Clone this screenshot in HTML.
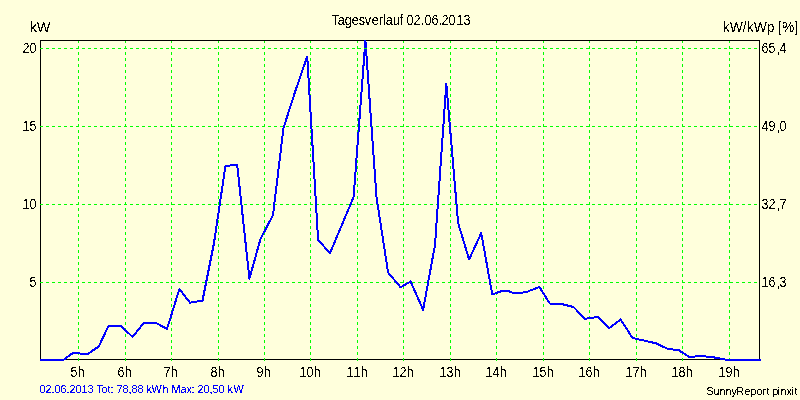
<!DOCTYPE html>
<html><head><meta charset="utf-8"><title>Tagesverlauf 02.06.2013</title>
<style>html,body{margin:0;padding:0;background:#FFFFDC;}svg{display:block;}text{font-family:"Liberation Sans",sans-serif;}</style></head><body>
<svg width="800" height="400" viewBox="0 0 800 400">
<defs>
<filter id="t1" filterUnits="userSpaceOnUse" x="0" y="0" width="800" height="400" color-interpolation-filters="sRGB"><feComponentTransfer><feFuncA type="discrete" tableValues="0 1"/></feComponentTransfer></filter>
<filter id="t2" filterUnits="userSpaceOnUse" x="0" y="0" width="800" height="400" color-interpolation-filters="sRGB"><feComponentTransfer><feFuncA type="discrete" tableValues="0 0 0 0 1 1 1 1 1"/></feComponentTransfer></filter>
</defs>
<rect x="0" y="0" width="800" height="400" fill="#FFFFDC"/>
<g shape-rendering="crispEdges" fill="none">
<rect x="40.5" y="40.5" width="719" height="319" stroke="#000" stroke-width="1"/>
<g stroke="#00FF00" stroke-width="1" stroke-dasharray="3 3">
<line x1="40" y1="48.5" x2="760" y2="48.5"/>
<line x1="40" y1="126.5" x2="760" y2="126.5"/>
<line x1="40" y1="204.5" x2="760" y2="204.5"/>
<line x1="40" y1="282.5" x2="760" y2="282.5"/>
<line x1="78.5" y1="41" x2="78.5" y2="361" stroke-dashoffset="1"/>
<line x1="125.5" y1="41" x2="125.5" y2="361" stroke-dashoffset="1"/>
<line x1="171.5" y1="41" x2="171.5" y2="361" stroke-dashoffset="1"/>
<line x1="218.5" y1="41" x2="218.5" y2="361" stroke-dashoffset="1"/>
<line x1="264.5" y1="41" x2="264.5" y2="361" stroke-dashoffset="1"/>
<line x1="310.5" y1="41" x2="310.5" y2="361" stroke-dashoffset="1"/>
<line x1="357.5" y1="41" x2="357.5" y2="361" stroke-dashoffset="1"/>
<line x1="403.5" y1="41" x2="403.5" y2="361" stroke-dashoffset="1"/>
<line x1="450.5" y1="41" x2="450.5" y2="361" stroke-dashoffset="1"/>
<line x1="496.5" y1="41" x2="496.5" y2="361" stroke-dashoffset="1"/>
<line x1="543.5" y1="41" x2="543.5" y2="361" stroke-dashoffset="1"/>
<line x1="589.5" y1="41" x2="589.5" y2="361" stroke-dashoffset="1"/>
<line x1="636.5" y1="41" x2="636.5" y2="361" stroke-dashoffset="1"/>
<line x1="682.5" y1="41" x2="682.5" y2="361" stroke-dashoffset="1"/>
<line x1="729.5" y1="41" x2="729.5" y2="361" stroke-dashoffset="1"/>
</g>
<polyline stroke="#0000FF" stroke-width="2" stroke-linejoin="round" points="40,360 63.2,360 72.5,353.3 79.6,353.3 81.2,354.3 87.2,354.3 98.75,346.5 108.5,326 121.25,326 132.5,337 143.5,323.2 156.5,323.2 167,329 179.4,289 190,302.75 202.5,300.6 214,243 225.5,165.8 237.2,165 249.4,278.6 260.5,239 273,215 283.5,128 295,92 307.25,56.5 318.1,240 330,253.1 353.6,197 365.4,40.5 376.5,197 388.1,272.5 400.6,287.25 410.6,281.5 423.1,309.75 435,245 446.3,83.8 458.1,223 469.1,259.4 481.25,233.1 492.25,294.4 501.8,291 508.4,291 513.2,293 520.6,293 527.5,291.6 539.4,286.9 549.8,303.5 561.4,304 573.5,307 585,318.75 598.1,316.9 609.4,328.1 620.6,319.5 632.5,337.9 644.1,340.6 655.7,343.2 667.3,348.7 678.9,350.3 689.4,357 701.2,356 713,357.2 727.5,360 761,360"/>
<line x1="364" y1="48.5" x2="367" y2="48.5" stroke="#00FF00" stroke-width="1"/>
</g>
<g filter="url(#t1)">
<text transform="translate(331.26,25) scale(0.9057,1)" x="0.54 7.17 14.89 22.62 30.35 36.98 44.71 52.44 56.85 60.17 67.89 75.62 78.94 83.08 90.81 98.81 102.95 110.68 118.69 121.72 129.45 138.29 146.01" font-size="14px" fill="#000">Tagesverlauf 02.06.2013</text>
<text transform="translate(29.56,32) scale(1.0353,1)" x="0.18 6.94" font-size="14px" fill="#000">kW</text>
<text transform="translate(722.76,32) scale(0.9899,1)" x="-0.01 7.06 20.19 24.23 31.31 44.44 52.52 55.55 59.89 72.37" font-size="14px" fill="#000">kW/kWp [%]</text>
<text transform="translate(22.00,53) scale(0.8990,1)" x="0.56 8.34" font-size="14px" fill="#000">20</text>
<text transform="translate(22.00,131) scale(0.8990,1)" x="0.56 8.34" font-size="14px" fill="#000">15</text>
<text transform="translate(22.00,209) scale(0.8990,1)" x="0.56 8.34" font-size="14px" fill="#000">10</text>
<text transform="translate(29.00,287) scale(0.8990,1)" x="0.56" font-size="14px" fill="#000">5</text>
<text transform="translate(761.00,53) scale(0.8990,1)" x="0.56 8.34 17.35 20.58" font-size="14px" fill="#000">65,4</text>
<text transform="translate(761.00,131) scale(0.8990,1)" x="0.56 8.34 17.35 20.58" font-size="14px" fill="#000">49,0</text>
<text transform="translate(761.00,209) scale(0.8990,1)" x="0.56 8.34 17.35 20.58" font-size="14px" fill="#000">32,7</text>
<text transform="translate(761.00,287) scale(0.8990,1)" x="0.56 8.34 17.35 20.58" font-size="14px" fill="#000">16,3</text>
<text transform="translate(70.00,377) scale(0.8990,1)" x="0.56 8.62" font-size="14px" fill="#000">5h</text>
<text transform="translate(117.00,377) scale(0.8990,1)" x="0.56 8.62" font-size="14px" fill="#000">6h</text>
<text transform="translate(163.00,377) scale(0.8990,1)" x="0.56 8.62" font-size="14px" fill="#000">7h</text>
<text transform="translate(210.00,377) scale(0.8990,1)" x="0.56 8.62" font-size="14px" fill="#000">8h</text>
<text transform="translate(256.00,377) scale(0.8990,1)" x="0.56 8.62" font-size="14px" fill="#000">9h</text>
<text transform="translate(299.00,377) scale(0.8990,1)" x="0.56 8.34 16.41" font-size="14px" fill="#000">10h</text>
<text transform="translate(346.00,377) scale(0.8990,1)" x="0.56 8.34 16.41" font-size="14px" fill="#000">11h</text>
<text transform="translate(392.00,377) scale(0.8990,1)" x="0.56 8.34 16.41" font-size="14px" fill="#000">12h</text>
<text transform="translate(439.00,377) scale(0.8990,1)" x="0.56 8.34 16.41" font-size="14px" fill="#000">13h</text>
<text transform="translate(485.00,377) scale(0.8990,1)" x="0.56 8.34 16.41" font-size="14px" fill="#000">14h</text>
<text transform="translate(532.00,377) scale(0.8990,1)" x="0.56 8.34 16.41" font-size="14px" fill="#000">15h</text>
<text transform="translate(578.00,377) scale(0.8990,1)" x="0.56 8.34 16.41" font-size="14px" fill="#000">16h</text>
<text transform="translate(625.00,377) scale(0.8990,1)" x="0.56 8.34 16.41" font-size="14px" fill="#000">17h</text>
<text transform="translate(671.00,377) scale(0.8990,1)" x="0.56 8.34 16.41" font-size="14px" fill="#000">18h</text>
<text transform="translate(718.00,377) scale(0.8990,1)" x="0.56 8.34 16.41" font-size="14px" fill="#000">19h</text>
</g>
<g filter="url(#t2)">
<text transform="translate(39.12,393) scale(0.9662,1)" x="0.40 6.61 12.82 15.92 22.13 28.34 31.45 37.66 43.87 50.08 56.29 59.39 64.57 70.78 73.88 76.99 80.09 86.30 92.51 95.62 101.83 108.04 111.14 116.32 127.70 133.91 137.02 146.33 152.54 157.72 160.82 163.93 170.14 176.35 179.45 185.66 191.87 194.98 201.19" font-size="11.2px" fill="#0000FF">02.06.2013 Tot: 78,88 kWh Max: 20,50 kW</text>
<text transform="translate(706.42,395) scale(0.9587,1)" x="0.08 7.38 13.64 19.90 26.16 31.37 39.72 45.98 52.24 58.49 62.67 65.80 68.92 74.14 77.27 83.53 88.74 91.87" font-size="11.2px" fill="#000">SunnyReport pinxit</text>
</g>
</svg></body></html>
